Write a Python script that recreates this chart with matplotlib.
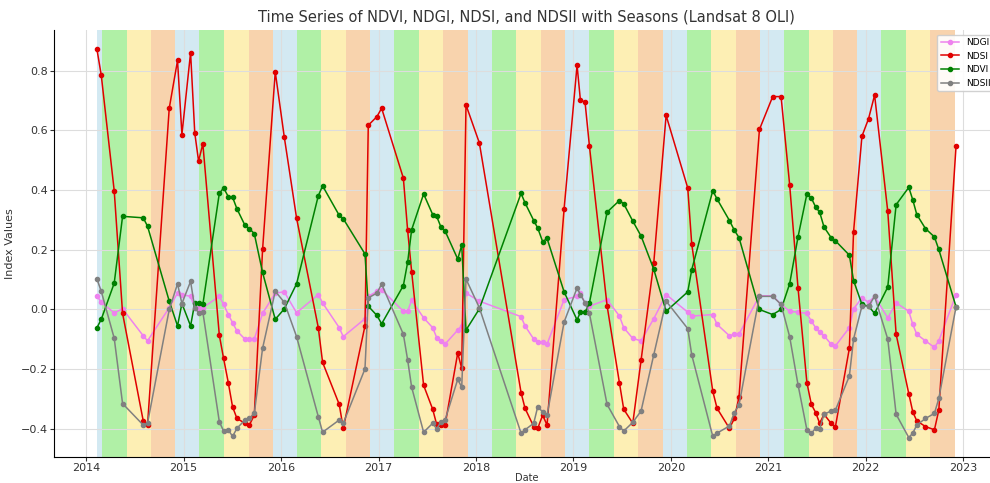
import matplotlib
matplotlib.use("Agg")
import matplotlib.pyplot as plt
import numpy as np

# acquisition dates as decimal years
dates = [2014.110, 2014.154, 2014.287, 2014.373, 2014.585, 2014.629, 2014.852, 2014.937,
         2014.982, 2015.071, 2015.114, 2015.153, 2015.197, 2015.366, 2015.410, 2015.458,
         2015.502, 2015.547, 2015.629, 2015.674, 2015.725, 2015.810, 2015.940, 2016.033,
         2016.159, 2016.382, 2016.426, 2016.597, 2016.638, 2016.861, 2016.895, 2016.984,
         2017.032, 2017.255, 2017.299, 2017.340, 2017.463, 2017.556, 2017.597, 2017.641,
         2017.683, 2017.813, 2017.854, 2017.898, 2018.035, 2018.463, 2018.504, 2018.593,
         2018.634, 2018.685, 2018.730, 2018.905, 2019.038, 2019.072, 2019.120, 2019.165,
         2019.346, 2019.473, 2019.517, 2019.610, 2019.695, 2019.825, 2019.952, 2020.174,
         2020.215, 2020.431, 2020.475, 2020.602, 2020.653, 2020.700, 2020.910, 2021.046,
         2021.132, 2021.220, 2021.306, 2021.397, 2021.443, 2021.487, 2021.528, 2021.573,
         2021.645, 2021.690, 2021.833, 2021.876, 2021.962, 2022.030, 2022.092, 2022.227,
         2022.313, 2022.443, 2022.484, 2022.525, 2022.614, 2022.706, 2022.751, 2022.928]

ndsi = [0.871, 0.785, 0.398, -0.013, -0.373, -0.387, 0.674, 0.834,
        0.586, 0.860, 0.591, 0.497, 0.555, -0.086, -0.164, -0.245,
        -0.326, -0.365, -0.381, -0.387, -0.354, 0.201, 0.796, 0.577,
        0.306, -0.061, -0.177, -0.318, -0.398, -0.055, 0.617, 0.646,
        0.674, 0.440, 0.265, 0.127, -0.254, -0.334, -0.385, -0.387,
        -0.387, -0.146, -0.197, 0.685, 0.558, -0.278, -0.331, -0.392,
        -0.398, -0.354, -0.387, 0.337, 0.818, 0.702, 0.694, 0.547,
        0.013, -0.246, -0.334, -0.381, -0.170, 0.155, 0.650, 0.407,
        0.219, -0.274, -0.331, -0.398, -0.365, -0.293, 0.603, 0.713,
        0.713, 0.418, 0.072, -0.245, -0.318, -0.345, -0.381, -0.351,
        -0.381, -0.392, -0.130, 0.260, 0.580, 0.639, 0.718, 0.329,
        -0.083, -0.282, -0.343, -0.373, -0.392, -0.403, -0.337, 0.547]

ndvi = [-0.061, -0.033, 0.088, 0.312, 0.307, 0.279, 0.028, -0.055,
        0.020, -0.055, 0.022, 0.022, 0.017, 0.389, 0.407, 0.378,
        0.376, 0.337, 0.282, 0.271, 0.254, 0.124, -0.033, 0.002,
        0.086, 0.381, 0.414, 0.315, 0.304, 0.186, 0.011, -0.020,
        -0.048, 0.080, 0.158, 0.267, 0.387, 0.318, 0.312, 0.276,
        0.263, 0.169, 0.215, -0.069, 0.002, 0.389, 0.357, 0.298,
        0.273, 0.227, 0.238, 0.059, -0.035, -0.009, -0.009, 0.022,
        0.326, 0.365, 0.354, 0.296, 0.246, 0.135, -0.006, 0.059,
        0.133, 0.398, 0.370, 0.298, 0.265, 0.241, 0.000, -0.017,
        0.000, 0.086, 0.243, 0.387, 0.373, 0.343, 0.326, 0.276,
        0.241, 0.230, 0.182, 0.097, 0.017, 0.011, -0.013, 0.075,
        0.351, 0.409, 0.367, 0.318, 0.271, 0.243, 0.201, 0.009]

ndsii = [0.102, 0.061, -0.096, -0.315, -0.387, -0.381, 0.000, 0.086,
         0.020, 0.094, 0.006, -0.011, -0.009, -0.376, -0.407, -0.403,
         -0.425, -0.398, -0.370, -0.365, -0.348, -0.130, 0.061, 0.024,
         -0.091, -0.359, -0.411, -0.370, -0.381, -0.199, 0.039, 0.055,
         0.085, -0.083, -0.169, -0.260, -0.411, -0.381, -0.400, -0.376,
         -0.370, -0.234, -0.260, 0.102, 0.006, -0.414, -0.403, -0.381,
         -0.326, -0.343, -0.354, -0.042, 0.072, 0.050, 0.022, -0.013,
         -0.318, -0.392, -0.407, -0.378, -0.340, -0.152, 0.028, -0.064,
         -0.152, -0.425, -0.414, -0.390, -0.345, -0.320, 0.044, 0.044,
         0.017, -0.091, -0.252, -0.403, -0.414, -0.398, -0.400, -0.351,
         -0.340, -0.337, -0.223, -0.099, 0.011, 0.011, 0.044, -0.099,
         -0.351, -0.429, -0.414, -0.387, -0.365, -0.348, -0.298, 0.009]

ndgi = [0.046, 0.024, -0.011, 0.002, -0.088, -0.105, 0.006, 0.055,
        0.050, 0.044, 0.006, 0.006, 0.006, 0.044, 0.017, -0.017,
        -0.044, -0.072, -0.099, -0.099, -0.099, -0.013, 0.055, 0.059,
        -0.011, 0.050, 0.022, -0.061, -0.091, -0.031, 0.044, 0.061,
        0.066, -0.006, -0.006, 0.031, -0.028, -0.061, -0.094, -0.105,
        -0.116, -0.069, -0.055, 0.055, 0.028, -0.024, -0.055, -0.099,
        -0.110, -0.110, -0.116, 0.033, 0.044, 0.055, 0.022, 0.011,
        0.033, -0.022, -0.061, -0.097, -0.105, -0.031, 0.050, -0.009,
        -0.022, -0.017, -0.050, -0.088, -0.083, -0.083, 0.046, 0.046,
        0.017, -0.006, -0.009, -0.013, -0.039, -0.061, -0.077, -0.088,
        -0.116, -0.122, -0.061, 0.002, 0.039, 0.024, 0.044, -0.028,
        0.022, -0.006, -0.050, -0.083, -0.105, -0.127, -0.105, 0.050]

years = list(range(2014, 2023))
season_colors = {'winter': '#d3e9f2', 'spring': '#b0f0a6',
                 'summer': '#fdefb4', 'autumn': '#f8d3ad'}
# season boundaries as fraction of year: Mar 1, Jun 1, Sep 1, Dec 1
mar, jun, sep, dec = 59/365, 151/365, 243/365, 334/365

fig = plt.figure(figsize=(9.9, 4.83), dpi=100)
ax = fig.add_axes([54/990, 26/483, 945/990, 427/483])

for y in years:
    start = dates[0] if y == years[0] else y - 1 + dec
    ax.axvspan(start, y + mar, color=season_colors['winter'], lw=0)
    ax.axvspan(y + mar, y + jun, color=season_colors['spring'], lw=0)
    ax.axvspan(y + jun, y + sep, color=season_colors['summer'], lw=0)
    ax.axvspan(y + sep, y + dec, color=season_colors['autumn'], lw=0)

ax.plot(dates, ndgi, '-o', color='violet', ms=3, lw=1.1, label='NDGI')
ax.plot(dates, ndsi, '-o', color='#e00000', ms=3, lw=1.1, label='NDSI')
ax.plot(dates, ndvi, '-o', color='green', ms=3, lw=1.1, label='NDVI')
ax.plot(dates, ndsii, '-o', color='gray', ms=3, lw=1.1, label='NDSII')

ax.set_xlim(dates[0] - 0.05 * (dates[-1] - dates[0]), dates[-1] + 0.05 * (dates[-1] - dates[0]))
ax.set_xticks(range(2014, 2024))
ax.set_xticklabels([str(t) for t in range(2014, 2024)])
ax.tick_params(labelsize=8, colors='#333333', pad=1.5, length=3)
ax.grid(True, color='#dddddd', lw=0.8)
for s in ['top', 'right']:
    ax.spines[s].set_visible(False)

ax.set_title('Time Series of NDVI, NDGI, NDSI, and NDSII with Seasons (Landsat 8 OLI)',
             fontsize=10.5, color='#333333')
ax.set_xlabel('Date', fontsize=7, color='#333333', labelpad=0)
ax.set_ylabel('Index Values', fontsize=8, color='#333333')
ax.legend(loc='upper right', fontsize=6.5, framealpha=0.9)

fig.savefig('out.png', dpi=100)
